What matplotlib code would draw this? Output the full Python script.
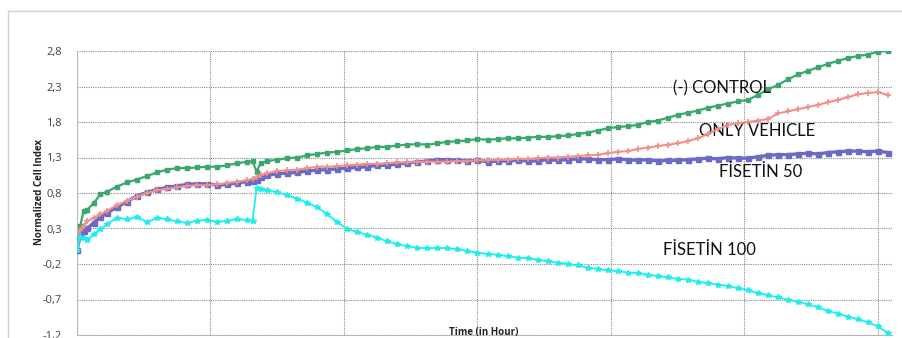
import matplotlib
matplotlib.use("Agg")
import matplotlib.pyplot as plt
from matplotlib.lines import Line2D

# time points (hours)
hours = [0, 0.5, 1.0, 1.5, 2.5, 3.5, 4.5, 6, 7.5, 9, 10.5, 12, 13.5, 15, 16.5, 18,
         19.5, 21, 22.5, 24, 25.5, 26.3, 26.9, 27.5, 28.5, 30, 31.5, 33, 34.5, 36,
         37.5, 39, 40.5, 42, 43.5, 45, 46.5, 48, 49.5, 51, 52.5, 54, 55.5, 57, 58.5,
         60, 61.5, 63, 64.5, 66, 67.5, 69, 70.5, 72, 73.5, 75, 76.5, 78, 79.5, 81,
         82.5, 84, 85.5, 87, 88.5, 90, 91.5, 93, 94.5, 96, 97.5, 99, 100.5, 102,
         103.5, 105, 106.5, 108, 109.5, 111, 112.5, 114, 115.5, 117, 118.5, 120, 121.5]

control = [0.00, 0.34, 0.55, 0.56, 0.66, 0.78, 0.82, 0.89, 0.95, 0.99, 1.04, 1.09, 1.13, 1.15, 1.15, 1.16,
           1.17, 1.17, 1.19, 1.22, 1.24, 1.25, 1.10, 1.22, 1.25, 1.27, 1.29, 1.30, 1.33, 1.35,
           1.37, 1.38, 1.40, 1.42, 1.43, 1.45, 1.45, 1.47, 1.48, 1.49, 1.48, 1.50, 1.52, 1.53, 1.54,
           1.56, 1.55, 1.56, 1.57, 1.57, 1.58, 1.59, 1.59, 1.60, 1.61, 1.63, 1.65, 1.68, 1.71, 1.73,
           1.74, 1.76, 1.80, 1.82, 1.86, 1.90, 1.93, 1.96, 2.00, 2.03, 2.06, 2.09, 2.11, 2.18,
           2.26, 2.32, 2.40, 2.47, 2.52, 2.57, 2.62, 2.66, 2.70, 2.73, 2.75, 2.79, 2.80]

vehicle = [0.00, 0.28, 0.34, 0.40, 0.45, 0.50, 0.55, 0.63, 0.69, 0.75, 0.80, 0.84, 0.86, 0.88, 0.90, 0.91,
           0.91, 0.92, 0.94, 0.96, 0.98, 1.00, 1.02, 1.05, 1.08, 1.11, 1.12, 1.13, 1.15, 1.17,
           1.17, 1.18, 1.19, 1.20, 1.21, 1.21, 1.22, 1.23, 1.23, 1.24, 1.24, 1.24, 1.24, 1.25, 1.25,
           1.26, 1.26, 1.27, 1.27, 1.28, 1.28, 1.29, 1.30, 1.30, 1.31, 1.32, 1.33, 1.34, 1.36, 1.38,
           1.39, 1.42, 1.44, 1.46, 1.48, 1.50, 1.53, 1.57, 1.63, 1.70, 1.76, 1.78, 1.80, 1.82,
           1.84, 1.92, 1.95, 1.98, 2.01, 2.04, 2.08, 2.11, 2.15, 2.19, 2.21, 2.22, 2.18]

fisetin50 = [0.00, 0.20, 0.27, 0.30, 0.38, 0.46, 0.52, 0.60, 0.68, 0.76, 0.81, 0.85, 0.88, 0.90, 0.92, 0.93,
             0.93, 0.91, 0.92, 0.94, 0.96, 0.97, 0.98, 1.02, 1.05, 1.07, 1.08, 1.09, 1.11, 1.12,
             1.13, 1.14, 1.15, 1.16, 1.17, 1.19, 1.19, 1.21, 1.22, 1.24, 1.25, 1.27, 1.27, 1.26, 1.25,
             1.26, 1.24, 1.25, 1.25, 1.26, 1.25, 1.25, 1.27, 1.26, 1.27, 1.28, 1.28, 1.27, 1.27, 1.28,
             1.27, 1.26, 1.27, 1.25, 1.26, 1.26, 1.27, 1.28, 1.29, 1.28, 1.30, 1.29, 1.29, 1.31,
             1.33, 1.34, 1.34, 1.35, 1.36, 1.35, 1.37, 1.38, 1.39, 1.39, 1.38, 1.39, 1.37]

fisetin100 = [0.00, 0.18, 0.16, 0.14, 0.22, 0.29, 0.36, 0.45, 0.43, 0.46, 0.39, 0.45, 0.43, 0.40, 0.38, 0.41,
              0.42, 0.39, 0.41, 0.43, 0.42, 0.41, 0.87, 0.86, 0.84, 0.81, 0.77, 0.72, 0.66, 0.60,
              0.50, 0.39, 0.29, 0.25, 0.21, 0.17, 0.12, 0.08, 0.05, 0.03, 0.02, 0.03, 0.02, 0.01, -0.02,
              -0.04, -0.06, -0.07, -0.09, -0.11, -0.12, -0.14, -0.16, -0.18, -0.20, -0.22, -0.25, -0.27, -0.29, -0.30,
              -0.32, -0.33, -0.35, -0.37, -0.39, -0.41, -0.42, -0.45, -0.47, -0.49, -0.51, -0.54, -0.57, -0.61,
              -0.64, -0.67, -0.70, -0.73, -0.77, -0.81, -0.86, -0.90, -0.94, -0.98, -1.02, -1.08, -1.17]

y_ticks = [-1.2, -0.7, -0.2, 0.3, 0.8, 1.3, 1.8, 2.3, 2.8]
x_grid = [0, 20, 40, 60, 80, 100, 120]

W, H = 902, 338
fig = plt.figure(figsize=(W / 100, H / 100), dpi=100)
ax = fig.add_axes([77 / W, 1 - 335 / H, (892 - 77) / W, (335 - 51) / H])

# outer chart frame (cropped at right/bottom)
fig.add_artist(Line2D([8 / W, 1], [1 - 11 / H, 1 - 11 / H], color="#d0d0d0", lw=1))
fig.add_artist(Line2D([8 / W, 8 / W], [0, 1 - 11 / H], color="#d0d0d0", lw=1))

ax.plot(hours, control, color="#3aa86c", lw=1.6, marker="s", ms=3.4, mec="#3aa86c", zorder=3)
ax.plot(hours, fisetin50, color="#6b6bc6", lw=2.4, marker="s", ms=3.6, mec="#6b6bc6", zorder=3)
ax.plot(hours, vehicle, color="#f29088", lw=1.5, marker="+", ms=4, mew=1.2, zorder=4)
ax.plot(hours, fisetin100, color="#1ceeee", lw=1.3, marker="*", ms=3.8, mec="#1ceeee", zorder=4)

ax.set_xlim(0, 122.1)
ax.set_ylim(-1.2, 2.8)
ax.set_yticks(y_ticks)
ax.set_yticklabels([("%.1f" % v).replace(".", ",") for v in y_ticks])
ax.set_xticks(x_grid)
ax.set_xticklabels([])
ax.tick_params(axis="both", length=0, labelsize=8, colors="#404040", pad=11)
for t in ax.get_yticklabels():
    t.set_fontfamily(["Open Sans", "DejaVu Sans"])

ax.grid(True, which="major", color="#8a8a8a", linestyle=(0, (1, 1)), lw=0.8, zorder=0)
for s in ["top", "right"]:
    ax.spines[s].set_visible(False)
ax.spines["left"].set_color("#b8b8b8")
ax.spines["bottom"].set_color("#b8b8b8")

fig.text(39 / W, 1 - 192 / H, "Normalized Cell Index", rotation=90, ha="center", va="center",
         fontsize=7, fontweight="bold", color="#222222", family=["Open Sans", "DejaVu Sans"])
fig.text(484 / W, 1 - 333 / H, "Time (in Hour)", ha="center", va="center",
         fontsize=7, fontweight="bold", color="#222222", family=["Open Sans", "DejaVu Sans"])

lab = dict(fontsize=12, color="#111111", family=["Lato", "DejaVu Sans"], ha="left", va="center")
ax.text(89.3, 2.27, "(-) CONTROL", **lab)
ax.text(93.2, 1.68, "ONLY VEHICLE", **lab)
ax.text(96.2, 1.09, "FİSETİN 50", **lab)
ax.text(87.8, 0.00, "FİSETİN 100", **lab)

fig.savefig("out.png", dpi=100)
